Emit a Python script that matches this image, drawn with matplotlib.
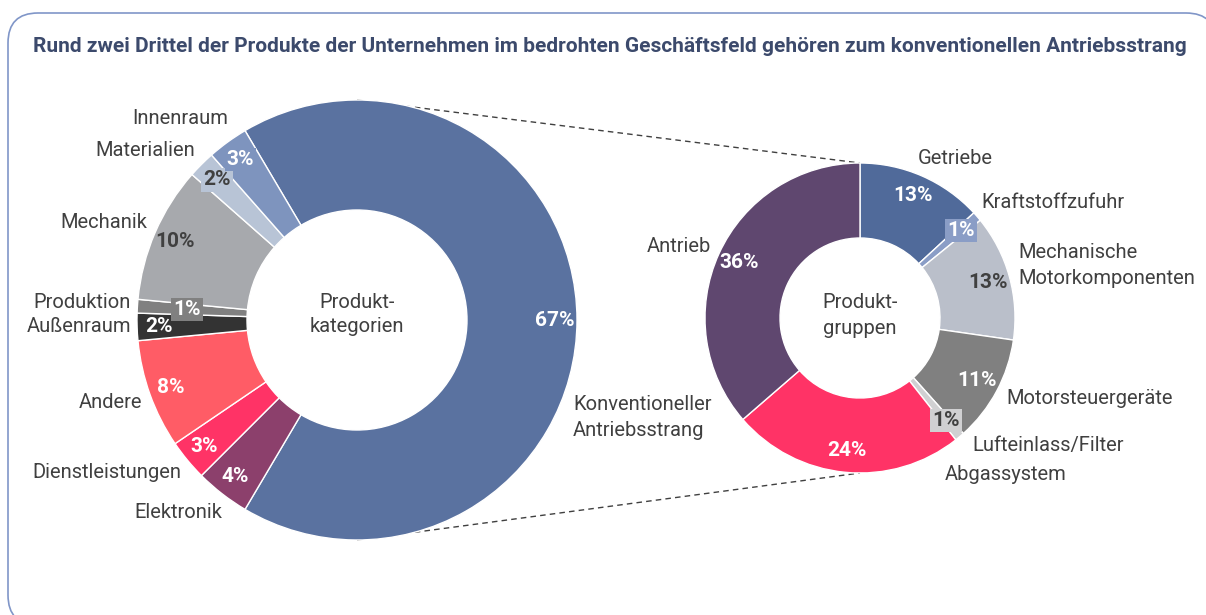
import matplotlib.pyplot as plt
from matplotlib.patches import FancyBboxPatch
import numpy as np

# Produktkategorien (linker Ring), im Uhrzeigersinn ab "Konventioneller Antriebsstrang"
kat_namen = ["Konventioneller Antriebsstrang", "Elektronik", "Dienstleistungen", "Andere",
             "Außenraum", "Produktion", "Mechanik", "Materialien", "Innenraum"]
kat_werte = [67, 4, 3, 8, 2, 1, 10, 2, 3]
kat_farben = ["#5A72A0", "#8C406C", "#FF3366", "#FF5C66", "#333333",
              "#808080", "#A7A9AD", "#B8C4D6", "#7E94BE"]

# Produktgruppen im konventionellen Antriebsstrang (rechter Ring), ab 12 Uhr
grp_namen = ["Getriebe", "Kraftstoffzufuhr", "Mechanische Motorkomponenten", "Motorsteuergeräte",
             "Lufteinlass/Filter", "Abgassystem", "Antrieb"]
grp_werte = [13, 1, 13, 11, 1, 24, 36]
grp_farben = ["#506A9A", "#8A9DC6", "#BABFCA", "#808080", "#D0D0D2", "#FF3366", "#5F476F"]

W, H = 1206, 615
plt.rcParams['font.family'] = ['Liberation Sans Narrow', 'Roboto', 'DejaVu Sans']
grau = "#404040"
fs = 14.5

fig = plt.figure(figsize=(W / 100, H / 100), dpi=100)
ax = fig.add_axes([0, 0, 1, 1])

def py(y):
    return H - y

# Rahmen
rahmen = FancyBboxPatch((8, py(625)), 1208, 612, boxstyle="round,pad=0,rounding_size=30",
                        fc="white", ec="#8096C8", lw=1.2, zorder=0)
ax.add_patch(rahmen)

ax.text(33, py(46), "Rund zwei Drittel der Produkte der Unternehmen im bedrohten Geschäftsfeld "
        "gehören zum konventionellen Antriebsstrang", fontsize=15, fontweight="bold",
        color="#3C4A6C", ha="left", va="center")

# linker Ring: großer Block mittig nach rechts
c1, r1 = (357, py(320)), 220
start1 = kat_werte[0] / sum(kat_werte) * 180
w1, t1, a1 = ax.pie(kat_werte, colors=kat_farben, startangle=start1, counterclock=False,
                    center=c1, radius=r1, autopct="%.0f%%", pctdistance=0.9,
                    wedgeprops=dict(width=110, edgecolor="white", linewidth=1),
                    textprops=dict(fontsize=15, fontweight="bold", color="white"), frame=True)

# rechter Ring
c2, r2 = (860, py(318)), 155
w2, t2, a2 = ax.pie(grp_werte, colors=grp_farben, startangle=90, counterclock=False,
                    center=c2, radius=r2, autopct="%.0f%%", pctdistance=0.86,
                    wedgeprops=dict(width=75, edgecolor="white", linewidth=1),
                    textprops=dict(fontsize=15, fontweight="bold", color="white"), frame=True)

# Prozent-Beschriftungen anpassen
dunkel1 = {"Mechanik", "Materialien"}
box1 = {"Produktion", "Materialien", "Innenraum"}
for name, farbe, txt in zip(kat_namen, kat_farben, a1):
    if name in dunkel1:
        txt.set_color(grau)
    if name in box1:
        txt.set_bbox(dict(boxstyle="square,pad=0.1", fc=farbe, ec="none"))
# Produktion-Wert weiter innen
i = kat_namen.index("Produktion")
x, y = a1[i].get_position()
v = np.array([x - c1[0], y - c1[1]])
a1[i].set_position((c1[0] + v[0] * 0.86, c1[1] + v[1] * 0.86))

dunkel2 = {"Mechanische Motorkomponenten", "Lufteinlass/Filter"}
box2 = {"Kraftstoffzufuhr", "Lufteinlass/Filter"}
for name, farbe, txt in zip(grp_namen, grp_farben, a2):
    if name in dunkel2:
        txt.set_color(grau)
    if name in box2:
        txt.set_bbox(dict(boxstyle="square,pad=0.1", fc=farbe, ec="none"))

# Verbindungslinien (hinter den Ringen)
for s in (1, -1):
    ax.plot([c1[0], c2[0]], [c1[1] + s * r1, c2[1] + s * r2], ls=(0, (4, 3)),
            color="#404040", lw=1, zorder=0.5)

# Mittentexte
ax.text(c1[0], c1[1] + 18, "Produkt-", fontsize=fs, color=grau, ha="center", va="center")
ax.text(c1[0], c1[1] - 7, "kategorien", fontsize=fs, color=grau, ha="center", va="center")
ax.text(c2[0], c2[1] + 15, "Produkt-", fontsize=fs, color=grau, ha="center", va="center")
ax.text(c2[0], c2[1] - 10, "gruppen", fontsize=fs, color=grau, ha="center", va="center")

# Kategorienamen
beschriftung = [
    ("Innenraum", 228, 118, "right"),
    ("Materialien", 195, 150, "right"),
    ("Mechanik", 147, 222, "right"),
    ("Produktion", 131, 302, "right"),
    ("Außenraum", 131, 327, "right"),
    ("Andere", 142, 403, "right"),
    ("Dienstleistungen", 181, 473, "right"),
    ("Elektronik", 222, 513, "right"),
    ("Konventioneller", 573, 404, "left"),
    ("Antriebsstrang", 573, 430, "left"),
    ("Getriebe", 918, 158, "left"),
    ("Kraftstoffzufuhr", 981, 203, "left"),
    ("Mechanische", 1018, 252, "left"),
    ("Motorkomponenten", 1018, 278, "left"),
    ("Motorsteuergeräte", 1006, 398, "left"),
    ("Lufteinlass/Filter", 972, 446, "left"),
    ("Abgassystem", 945, 474, "left"),
    ("Antrieb", 711, 246, "right"),
]
for txt, x, y, ha in beschriftung:
    ax.text(x, py(y), txt, fontsize=fs, color=grau, ha=ha, va="center")

ax.set_xlim(0, W)
ax.set_ylim(0, H)
ax.set_aspect("auto")
ax.axis("off")
fig.savefig("out.png", dpi=100)
